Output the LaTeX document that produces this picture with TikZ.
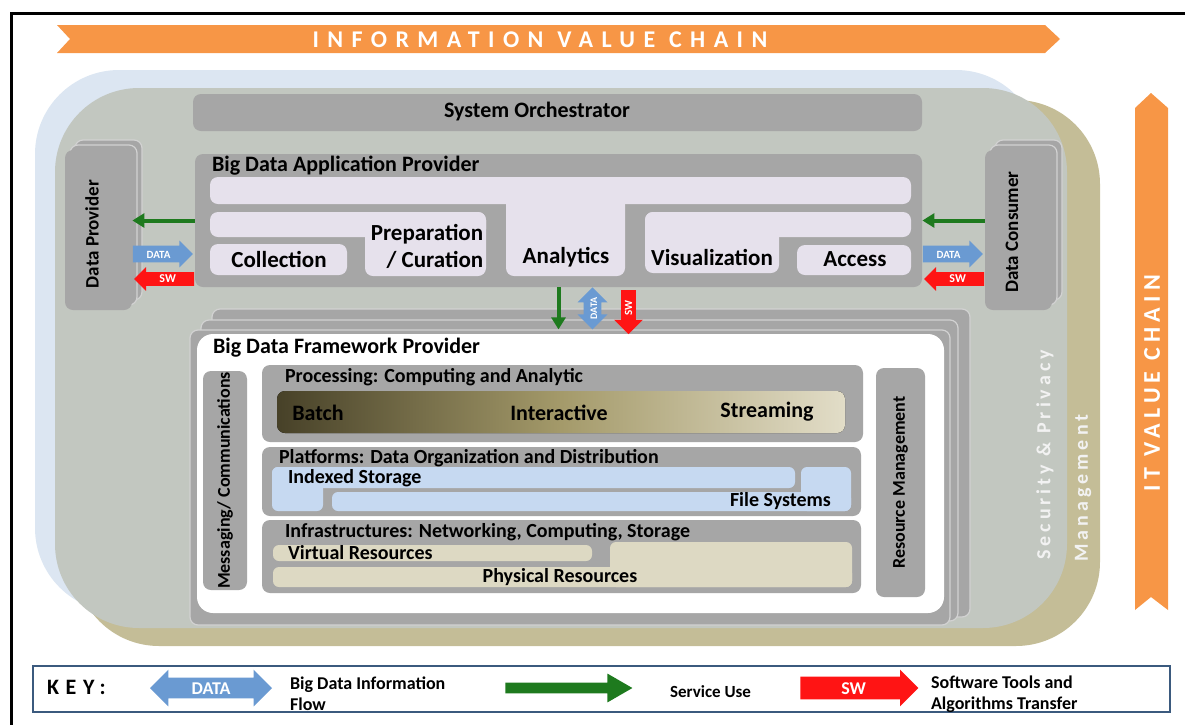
\documentclass[tikz,border=0pt]{standalone}
\usepackage{fontspec}
\setmainfont{Carlito}
\usetikzlibrary{shapes.arrows,fit,calc,arrows.meta}

\definecolor{ivcorange}{HTML}{F79646}
\definecolor{ltblue}{HTML}{DCE6F2}
\definecolor{bggrey}{HTML}{C2C7C0}
\definecolor{tanbg}{HTML}{C4BD97}
\definecolor{boxgrey}{HTML}{A6A6A6}
\definecolor{lavender}{HTML}{E6E1EC}
\definecolor{bluebox}{HTML}{C6D9F1}
\definecolor{beige}{HTML}{DDD9C3}
\definecolor{batchdark}{HTML}{474128}
\definecolor{batchmid}{HTML}{A49A6A}
\definecolor{batchlight}{HTML}{E2DDC8}
\definecolor{svcgreen}{HTML}{1E7A1E}
\definecolor{datablue}{HTML}{6A9AD2}
\definecolor{swred}{HTML}{FF1414}
\definecolor{keyblue}{HTML}{3B5A7E}
\definecolor{layerline}{HTML}{D2D2D2}

\tikzset{
  box/.style={fill=boxgrey, rounded corners=4pt, inner sep=0pt},
  layer/.style={fill=boxgrey, draw=layerline, line width=0.6pt, rounded corners=4pt},
  lav/.style={fill=lavender, rounded corners=4pt},
  blu/.style={fill=bluebox, rounded corners=3pt},
  bei/.style={fill=beige, rounded corners=3pt},
  fwtx/.style={font=\fontsize{10}{12}\selectfont\bfseries},
  sidetx/.style={font=\fontsize{9.5}{11}\selectfont\bfseries},
  keytx/.style={font=\fontsize{9}{10.5}\selectfont\bfseries, align=left, anchor=west},
  chain/.style={text=white, font=\fontsize{12}{14}\selectfont\bfseries\addfontfeature{LetterSpace=#1}},
  svc/.style={svcgreen, line width=2pt, -{Triangle[length=6pt,width=7pt]}},
  dataarr/.style={single arrow, fill=datablue, text=white, inner xsep=1pt, inner ysep=2pt,
    text height=4pt, text depth=0pt, single arrow head extend=2.5pt,
    minimum height=30pt, font=\fontsize{5.5}{6}\selectfont\bfseries},
  swarr/.style={single arrow, fill=swred, text=white, inner xsep=1pt, inner ysep=1.5pt,
    text height=3.5pt, text depth=0pt, single arrow head extend=2.5pt,
    minimum height=30pt, shape border rotate=180, font=\fontsize{6}{6}\selectfont\bfseries},
}

\begin{document}
\begin{tikzpicture}[x=0.5pt, y=-0.5pt, font=\fontsize{11}{13}\selectfont\bfseries]
\useasboundingbox (0,0) rectangle (1185,724);

% frame and value chains
\draw[line width=1.5pt] (11,730) -- (11,13) -- (1190,13);
\fill[ivcorange] (57,25) -- (1045,25) -- (1060,39) -- (1045,53) -- (57,53) -- (70,39) -- cycle;
\node[chain=35] at (540,40) {INFORMATION VALUE CHAIN};
\fill[ivcorange] (1135,108) -- (1151,93) -- (1168,108) -- (1168,610) -- (1151,597) -- (1135,610) -- cycle;
\node[chain=22, rotate=90] at (1152,383) {IT VALUE CHAIN};

% background regions
\fill[ltblue, rounded corners=42pt] (35,70) rectangle (1040,612);
\fill[tanbg, rounded corners=42pt] (75,100) rectangle (1100,646);
\fill[bggrey, rounded corners=42pt] (55,88) rectangle (1067,628);
\node[rotate=90, text=white!95!black, font=\fontsize{10}{12}\selectfont\bfseries\addfontfeature{LetterSpace=20}] at (1045,455) {Security \& Privacy};
\node[rotate=90, text=white!95!black, font=\fontsize{10}{12}\selectfont\bfseries\addfontfeature{LetterSpace=20}] at (1083,488) {Management};

% system orchestrator
\node[box, fit={(193,94) (922,131)}] (orch) {};
\node at (537,112) {System Orchestrator};

% application provider
\node[box, fit={(195,154) (922,287)}] (app) {};
\node[anchor=west] at (205,166) {Big Data Application Provider};
\fill[lav] (210,177) rectangle (911,204);
\fill[lav] (506,177) rectangle (625,276);
\fill[lav] (210,212) rectangle (486,237);
\fill[lav] (365,212) rectangle (486,276);
\fill[lav] (210,244) rectangle (347,275);
\fill[lav] (645,212) rectangle (911,237);
\fill[lav] (645,212) rectangle (779,273);
\fill[lav] (797,245) rectangle (911,275);
\node[font=\fontsize{11.5}{13}\selectfont\bfseries] at (279,259) {Collection};
\node[align=right, font=\fontsize{11.5}{13.5}\selectfont\bfseries] at (427,246) {Preparation\\/ Curation};
\node[font=\fontsize{11.5}{13}\selectfont\bfseries] at (566,257) {Analytics};
\node[font=\fontsize{11.5}{13}\selectfont\bfseries] at (712,257) {Visualization};
\node[font=\fontsize{11.5}{13}\selectfont\bfseries] at (855,259) {Access};

% data provider and consumer
\foreach \d in {10,5} {
  \draw[layer] ({65+\d},{150-\d}) rectangle ({132+\d},{310-\d});
  \draw[layer] ({985+\d},{150-\d}) rectangle ({1052+\d},{310-\d});
}
\node[box, fit={(65,150) (132,310)}] (dprov) {};
\node[sidetx, rotate=90] at (92,234) {Data Provider};
\node[box, fit={(985,150) (1052,310)}] (dcons) {};
\node[sidetx, rotate=90] at (1012,232) {Data Consumer};

\coordinate (datay) at (0,254);
\coordinate (swy) at (0,279);
\draw[svc] (app.west) -- (app.west -| dprov.east);
\draw[svc] (dcons.west |- app.east) -- (app.east);
\node[dataarr, anchor=tail] at (dprov.east |- datay) {DATA};
\node[swarr, anchor=tail] at (app.west |- swy) {SW};
\node[dataarr, anchor=tail] at (app.east |- datay) {DATA};
\node[swarr, anchor=tail] at (dcons.west |- swy) {SW};

% framework provider
\draw[layer] (212,309) rectangle (970,617);
\draw[layer] (201,320) rectangle (958,621);
\node[box, draw=layerline, line width=0.6pt, fit={(190,330) (950,625)}] (fw) {};
\fill[white, rounded corners=8pt] (197,334) rectangle (944,613);
\node[anchor=west] at (206,348) {Big Data Framework Provider};

\draw[svc] (app.south) -- (app.south |- fw.north);
\node[dataarr, double arrow, rotate=90, minimum height=21pt, minimum width=15pt,
  double arrow head extend=3pt, text height=4.5pt, inner ysep=2pt, inner xsep=0pt,
  font=\fontsize{5}{5}\selectfont\bfseries] at ($(app.south)!.5!(app.south |- fw.north) + (34,0)$) {DATA};
\node[swarr, rotate=90, minimum height=22pt, single arrow head extend=3.5pt, inner ysep=1.7pt,
  font=\fontsize{5.5}{5.5}\selectfont\bfseries] at ($(app.south)!.5!(app.south |- fw.north) + (70,0)$) {SW};

\node[box, fit={(203,371) (247,590)}] (msg) {};
\node[sidetx, rotate=90, font=\fontsize{9}{11}\selectfont\bfseries] at (msg) {Messaging/ Communications};
\node[box, fit={(876,368) (925,597)}] (res) {};
\node[sidetx, rotate=90, font=\fontsize{9}{11}\selectfont\bfseries] at (res) {Resource Management};

\node[box, fit={(262,365) (863,442)}] (proc) {};
\node[fwtx, anchor=west] at (278,377) {Processing: Computing and Analytic};
\fill[rounded corners=4pt, left color=batchdark, right color=batchlight, middle color=batchmid] (277,391) rectangle (845,433);
\node at (318,413) {Batch};
\node at (559,413) {Interactive};
\node at (767,412) {Streaming};

\node[box, fit={(262,447) (861,516)}] (plat) {};
\node[fwtx, anchor=west] at (272,458) {Platforms: Data Organization and Distribution};
\fill[blu] (272,467) rectangle (795,488);
\fill[blu] (272,467) rectangle (323,511);
\fill[blu] (801,467) rectangle (851,511);
\fill[blu] (332,492) rectangle (851,511);
\node[fwtx, anchor=west] at (281,478) {Indexed Storage};
\node[fwtx, anchor=east] at (838,501) {File Systems};

\node[box, fit={(262,520) (861,593)}] (infra) {};
\node[fwtx, anchor=west] at (278,532) {Infrastructures: Networking, Computing, Storage};
\fill[bei] (273,545) rectangle (592,561);
\fill[bei] (273,567) rectangle (852,587);
\fill[bei] (610,542) rectangle (852,587);
\node[fwtx, anchor=west] at (281,553) {Virtual Resources};
\node[fwtx] at (560,577) {Physical Resources};

% key
\node[draw=keyblue, line width=1pt, fit={(33,666) (1170,712)}, inner sep=0pt] (key) {};
\node[anchor=west, font=\fontsize{11}{13}\selectfont\bfseries\addfontfeature{LetterSpace=30}] at (40,687) {KEY:};
\node[double arrow, fill=datablue, text=white, minimum height=61pt, minimum width=18pt,
  double arrow head extend=4pt, text height=6pt, text depth=0pt, inner ysep=2pt,
  font=\fontsize{9}{10}\selectfont\bfseries] at (211,688) {DATA};
\node[keytx] at (283,694) {Big Data Information\\Flow};
\node[single arrow, fill=svcgreen, minimum height=63.5pt, minimum width=14pt, inner sep=0pt,
  text height=5pt, text depth=0pt, single arrow head extend=4.5pt, single arrow tip angle=60,
  anchor=tail] at (505,688) {};
\node[keytx, font=\fontsize{8.5}{10}\selectfont\bfseries] at (663,692) {Service Use};
\node[single arrow, fill=swred, text=white, minimum height=59pt, minimum width=18pt,
  text height=6pt, text depth=0pt, inner ysep=2.5pt, single arrow head extend=3.5pt,
  font=\fontsize{9}{10}\selectfont\bfseries, anchor=tail] at (800,688) {SW};
\node[keytx] at (924,694) {Software Tools and\\Algorithms Transfer};
\end{tikzpicture}
\end{document}
